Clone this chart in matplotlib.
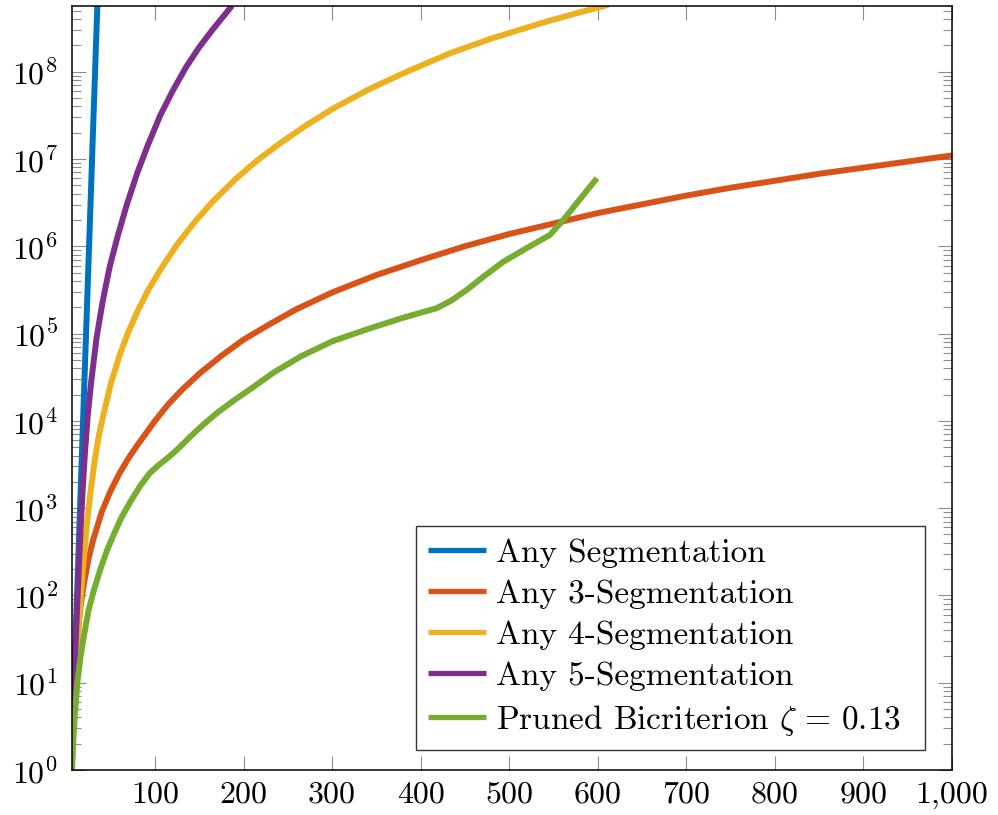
import matplotlib
matplotlib.use('Agg')
import matplotlib.pyplot as plt
import numpy as np
from matplotlib.ticker import LogLocator, FixedLocator, FixedFormatter, NullFormatter

plt.rcParams['font.family'] = 'serif'
plt.rcParams['font.serif'] = ['cmr10']
plt.rcParams['mathtext.fontset'] = 'cm'
plt.rcParams['axes.formatter.use_mathtext'] = True
plt.rcParams['axes.unicode_minus'] = False

# Data (y given as log10 of the count) -----------------------------------
any_x = [6, 10, 15, 20, 25, 30, 35]
any_log = [0.23, 1.41, 2.88, 4.36, 5.83, 7.31, 8.78]

seg3_x = [6.3, 9, 12, 16, 20, 25, 30, 40, 50, 60, 70, 80, 90, 100, 115, 130,
          150, 175, 200, 230, 260, 300, 350, 400, 450, 500, 550, 600, 650,
          700, 750, 800, 850, 900, 950, 1000]
seg3_log = [0.5, 1.05, 1.5, 1.88, 2.15, 2.42, 2.63, 2.96, 3.2, 3.4, 3.57,
            3.72, 3.86, 4.0, 4.19, 4.35, 4.54, 4.745, 4.93, 5.11, 5.28, 5.47,
            5.67, 5.84, 6.0, 6.14, 6.26, 6.38, 6.48, 6.58, 6.67, 6.75, 6.83,
            6.9, 6.97, 7.04]

seg4_x = [6.3, 8, 10, 12.5, 15, 19, 23, 27, 32, 37, 42, 50, 60, 70, 80, 92,
          106, 125, 145, 165, 190, 215, 240, 270, 300, 340, 380, 433, 480,
          520, 546, 580, 612]
seg4_log = [0.3, 0.62, 0.98, 1.42, 1.82, 2.35, 2.8, 3.17, 3.55, 3.85, 4.08,
            4.42, 4.75, 5.02, 5.25, 5.49, 5.73, 6.02, 6.28, 6.51, 6.76, 6.98,
            7.17, 7.38, 7.57, 7.79, 7.98, 8.21, 8.38, 8.505, 8.585, 8.68,
            8.765]

seg5_x = [6.3, 9, 12, 15, 18, 21, 24, 28, 34, 41, 49, 58, 68, 80, 92, 106,
          120, 135, 150, 165, 187]
seg5_log = [0.38, 1.1, 1.85, 2.55, 3.15, 3.65, 4.05, 4.45, 4.95, 5.37, 5.77,
            6.12, 6.47, 6.84, 7.16, 7.5, 7.78, 8.05, 8.28, 8.48, 8.755]

pruned_x = [6.3, 8, 10, 12.5, 16, 20, 25, 31, 38, 46, 54, 62, 72, 83, 94,
            105, 115, 125, 140, 155, 170, 190, 210, 235, 265, 300, 340, 380,
            418, 435, 452, 472, 493, 520, 546, 561, 580, 599]
pruned_log = [0.0, 0.38, 0.7, 1.02, 1.3, 1.55, 1.83, 2.06, 2.29, 2.52, 2.71,
              2.89, 3.07, 3.25, 3.4, 3.5, 3.58, 3.67, 3.82, 3.96, 4.09, 4.24,
              4.38, 4.56, 4.74, 4.91, 5.05, 5.18, 5.29, 5.38, 5.5, 5.66,
              5.82, 5.98, 6.13, 6.3, 6.54, 6.78]

labels = ['Any Segmentation', 'Any 3-Segmentation', 'Any 4-Segmentation',
          'Any 5-Segmentation', r'Pruned Bicriterion $\zeta\,=\,0.13$']
colors = ['#0072BD', '#D95319', '#EDB120', '#7E2F8E', '#77AC30']

xticks = [100, 200, 300, 400, 500, 600, 700, 800, 900, 1000]
xticklabels = ['100', '200', '300', '400', '500', '600', '700', '800', '900', '1,000']

# Plot -------------------------------------------------------------------
fig = plt.figure(figsize=(9.98, 8.15), dpi=100)
ax = fig.add_axes([72/998, 45/815, 880/998, 764/815])

series = [(any_x, any_log), (seg3_x, seg3_log), (seg4_x, seg4_log),
          (seg5_x, seg5_log), (pruned_x, pruned_log)]
for (xs, ls), c, lab in zip(series, colors, labels):
    ax.plot(xs, np.power(10.0, ls), color=c, lw=4.3, label=lab,
            solid_capstyle='butt', solid_joinstyle='round')

ax.set_yscale('log')
ax.set_xlim(6.3, 1000)
ax.set_ylim(1, 5.65e8)

ax.xaxis.set_major_locator(FixedLocator(xticks))
ax.xaxis.set_major_formatter(FixedFormatter(xticklabels))
ax.yaxis.set_major_locator(LogLocator(base=10, numticks=20))
ax.yaxis.set_minor_locator(LogLocator(base=10, subs=range(2, 10), numticks=20))
ax.yaxis.set_minor_formatter(NullFormatter())

ax.tick_params(which='both', direction='in', top=True, right=True,
               color='0.55', width=0.8)
ax.tick_params(which='major', length=10, labelsize=23)
ax.tick_params(which='minor', length=6.5)
ax.tick_params(axis='y', pad=10)
ax.tick_params(axis='x', pad=8)
for s in ax.spines.values():
    s.set_linewidth(1.1)

# legend box: x 416..925, y 526..746 px
leg = ax.legend(loc='upper left',
                bbox_to_anchor=(416/998, 69/815, 509/998, 220/815),
                bbox_transform=fig.transFigure, borderaxespad=0, mode='expand',
                fontsize=24, handlelength=1.74, handletextpad=0.3,
                borderpad=0.36, labelspacing=0.35, fancybox=False,
                framealpha=1, edgecolor='0.2')
leg.get_frame().set_linewidth(1.0)
for h in leg.get_lines():
    h.set_linewidth(3.8)

fig.savefig('out.png', dpi=100)
